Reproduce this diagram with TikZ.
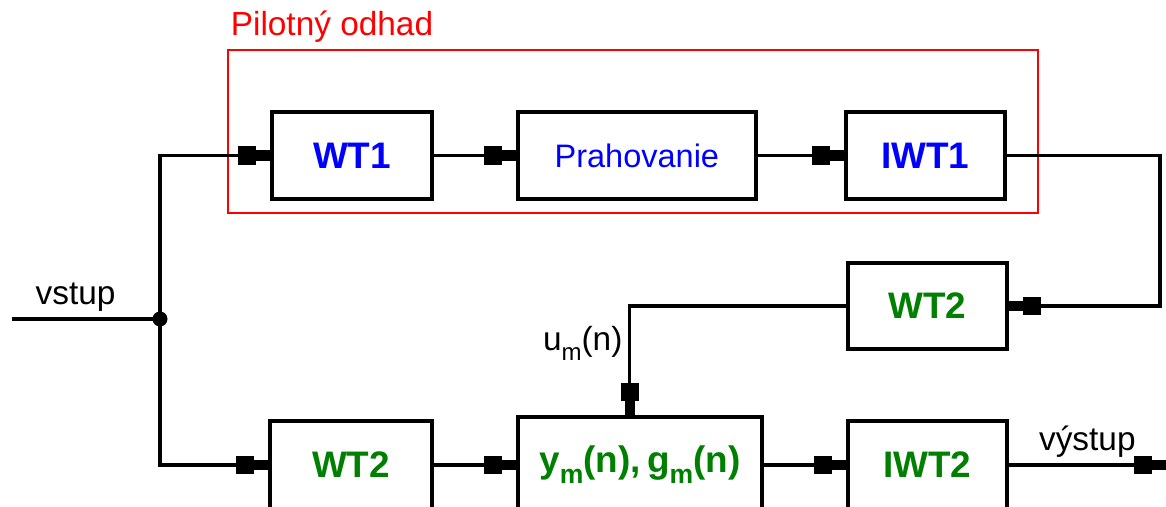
\documentclass[tikz,border=0pt]{standalone}
\usepackage{fontspec}
\setmainfont{Liberation Sans}
\usetikzlibrary{arrows.meta, positioning}
\definecolor{wtblue}{RGB}{0,0,255}
\definecolor{wtgreen}{RGB}{0,128,0}
\newcommand{\lowsub}[1]{\raisebox{-0.3em}{\scalebox{0.72}{#1}}}
\begin{document}
\begin{tikzpicture}[line width=1.8pt,
  block/.style={draw, line width=2.2pt, minimum height=1.74cm, inner sep=0pt},
  bigtxt/.style={font=\fontsize{21}{24}\selectfont\bfseries},
  labeltxt/.style={font=\fontsize{19}{22}\selectfont},
  sig/.style={-{Rectangle[length=10pt,width=10.5pt]Rectangle[length=8pt,width=6pt]}}]
  \useasboundingbox (0,0) rectangle (23.32,10.12);
  % pilot estimate branch
  \node (pilot) [draw=red, line width=0.85pt, minimum width=16.2cm, minimum height=3.26cm] at (12.66,7.49) {};
  \node (pilotlbl) [anchor=base west, inner sep=0pt, text=red, labeltxt] at ([xshift=0.04cm, yshift=0.28cm]pilot.north west) {Pilotný odhad};
  \node (wta) [block, bigtxt, text=wtblue, minimum width=3.2cm] at (7.04,7.01) {WT1};
  \node (prah) [block, text=wtblue, font=\fontsize{18.5}{22}\selectfont, minimum width=4.76cm, right=1.64cm of wta] {Prahovanie};
  \node (iwta) [block, bigtxt, text=wtblue, minimum width=3.18cm, right=1.72cm of prah] {IWT1};
  \node (wtb) [block, bigtxt, text=wtgreen, minimum width=3.18cm, minimum height=1.72cm] at (18.55,4.0) {WT2};
  % main branch
  \node (wtc) [block, bigtxt, text=wtgreen, minimum width=3.24cm, minimum height=1.76cm] at (7.02,0.82) {WT2};
  \node (est) [block, bigtxt, text=wtgreen, minimum width=4.88cm, minimum height=1.92cm, right=1.64cm of wtc] {y\lowsub{m}(n),\,g\lowsub{m}(n)};
  \node (iwtb) [block, bigtxt, text=wtgreen, minimum width=3.18cm, minimum height=1.76cm, right=1.64cm of est] {IWT2};
  \coordinate (in) at (0.24,3.74);
  \coordinate (junc) at (3.2,3.74);
  \coordinate (turn) at (23.2,4.0);
  \coordinate (out) at (23.32,0.82);
  \fill (junc) circle (0.15);
  \draw (in) -- node[above, pos=0.43, labeltxt] {vstup} (junc);
  \draw[sig] (junc) |- (wta.west);
  \draw[sig] (junc) |- (wtc.west);
  \draw[sig] (wta) -- (prah);
  \draw[sig] (prah) -- (iwta);
  \draw[sig] (iwta.east) -| (turn) -- (wtb.east);
  \draw[sig] (wtb.west) -| node[pos=0.67, left, labeltxt] {u\lowsub{m}(n)} ([xshift=-0.2cm]est.north);
  \draw[sig] (wtc) -- (est);
  \draw[sig] (est) -- (iwtb);
  \draw[sig] (iwtb) -- node[above, labeltxt] {výstup} (out);
\end{tikzpicture}
\end{document}
